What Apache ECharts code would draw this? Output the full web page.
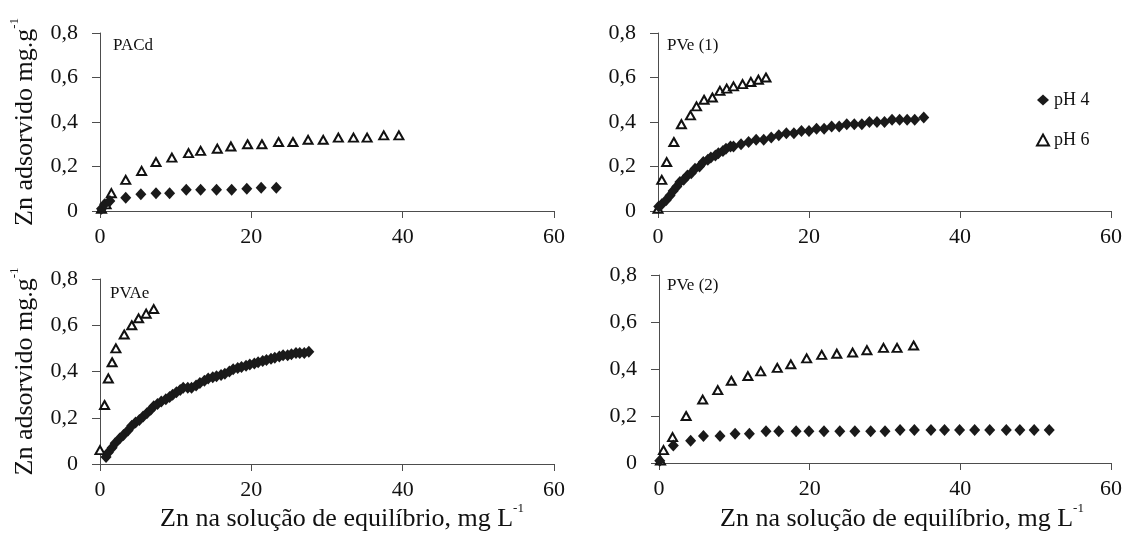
<!DOCTYPE html>
<html>
<head>
<meta charset="utf-8">
<script src="https://cdn.jsdelivr.net/npm/echarts@6/dist/echarts.min.js"></script>
<style>
  html, body { margin: 0; padding: 0; background: #fff; }
  #chart { width: 1125px; height: 540px; }
</style>
</head>
<body>
<div id="chart"></div>
<script>
  // x tick labels / y tick labels
  const xTicks = [0, 20, 40, 60]
  const yTicks = [0, 0.2, 0.4, 0.6, 0.8]
  const panelNames = ['PACd', 'PVe (1)', 'PVAe', 'PVe (2)']
  const seriesNames = ['pH 4', 'pH 6']

  // [Zn in solution, Zn adsorbed]
  const pacdPh4 = [[0.2, 0.01], [0.6, 0.03], [1.3, 0.045], [3.4, 0.06], [5.4, 0.075], [7.4, 0.08], [9.2, 0.08],
    [11.4, 0.095], [13.3, 0.095], [15.4, 0.095], [17.4, 0.095], [19.4, 0.1], [21.3, 0.105], [23.3, 0.105]]
  const pacdPh6 = [[0.2, 0.01], [0.8, 0.03], [1.5, 0.08], [3.4, 0.14], [5.5, 0.18], [7.4, 0.22], [9.5, 0.24],
    [11.7, 0.26], [13.3, 0.27], [15.5, 0.28], [17.3, 0.29], [19.5, 0.3], [21.4, 0.3], [23.6, 0.31], [25.5, 0.31],
    [27.5, 0.32], [29.5, 0.32], [31.5, 0.33], [33.5, 0.33], [35.3, 0.33], [37.5, 0.34], [39.5, 0.34]]

  const pve1Ph4 = [[0.1, 0.02], [0.5, 0.03], [1.1, 0.05], [1.6, 0.07], [2.0, 0.09], [2.5, 0.11], [2.9, 0.13],
    [3.4, 0.14], [3.9, 0.16], [4.4, 0.17], [4.9, 0.19], [5.5, 0.2], [6.0, 0.22], [6.6, 0.23], [7.0, 0.24],
    [7.6, 0.25], [8.0, 0.26], [8.6, 0.27], [9.0, 0.28], [9.6, 0.29], [10.0, 0.29], [11.0, 0.3], [12.0, 0.31],
    [13.0, 0.32], [14.0, 0.32], [15.0, 0.33], [16.0, 0.34], [17.0, 0.35], [18.0, 0.35], [19.0, 0.36],
    [20.0, 0.36], [21.0, 0.37], [22.0, 0.37], [23.0, 0.38], [24.0, 0.38], [25.0, 0.39], [26.0, 0.39],
    [27.0, 0.39], [28.0, 0.4], [29.0, 0.4], [30.0, 0.4], [31.0, 0.41], [32.0, 0.41], [33.0, 0.41],
    [34.0, 0.41], [35.2, 0.42]]
  const pve1Ph6 = [[0, 0.01], [0.5, 0.14], [1.15, 0.22], [2.1, 0.31], [3.1, 0.39], [4.3, 0.43], [5.1, 0.47],
    [6.1, 0.5], [7.2, 0.51], [8.2, 0.54], [9.1, 0.55], [10.0, 0.56], [11.2, 0.57], [12.3, 0.58], [13.3, 0.59],
    [14.3, 0.6]]

  const pvaePh4 = [[0.8, 0.03], [1.1, 0.05], [1.6, 0.07], [2.0, 0.09], [2.6, 0.11], [3.1, 0.125], [3.7, 0.145],
    [4.2, 0.165], [4.7, 0.18], [5.2, 0.19], [5.7, 0.205], [6.2, 0.22], [6.7, 0.235], [7.1, 0.25], [7.6, 0.26],
    [8.1, 0.27], [8.7, 0.28], [9.2, 0.29], [9.6, 0.3], [10.1, 0.31], [10.6, 0.32], [11.0, 0.33], [11.6, 0.33],
    [12.1, 0.33], [12.7, 0.34], [13.2, 0.35], [13.8, 0.36], [14.3, 0.37], [14.9, 0.375], [15.4, 0.38],
    [16.0, 0.385], [16.5, 0.39], [17.1, 0.4], [17.6, 0.41], [18.2, 0.415], [18.7, 0.42], [19.3, 0.425],
    [19.8, 0.43], [20.4, 0.435], [20.9, 0.44], [21.5, 0.445], [22.0, 0.45], [22.6, 0.455], [23.1, 0.46],
    [23.7, 0.465], [24.2, 0.47], [24.8, 0.47], [25.3, 0.475], [25.9, 0.48], [26.4, 0.48], [27.0, 0.48],
    [27.6, 0.485]]
  const pvaePh6 = [[0, 0.06], [0.6, 0.255], [1.1, 0.37], [1.6, 0.44], [2.1, 0.5], [3.2, 0.56], [4.2, 0.6],
    [5.1, 0.63], [6.1, 0.65], [7.1, 0.67]]

  const pve2Ph4 = [[0.1, 0.01], [1.9, 0.075], [4.2, 0.095], [5.9, 0.115], [8.1, 0.115], [10.1, 0.125],
    [12.0, 0.125], [14.2, 0.135], [15.9, 0.135], [18.2, 0.135], [19.9, 0.135], [21.9, 0.135], [24.0, 0.135],
    [26.0, 0.135], [28.1, 0.135], [30.0, 0.135], [32.0, 0.14], [33.9, 0.14], [36.1, 0.14], [37.9, 0.14],
    [39.9, 0.14], [41.9, 0.14], [43.9, 0.14], [46.1, 0.14], [47.9, 0.14], [49.8, 0.14], [51.8, 0.14]]
  const pve2Ph6 = [[0.2, 0.01], [0.6, 0.055], [1.8, 0.11], [3.6, 0.2], [5.8, 0.27], [7.8, 0.31], [9.6, 0.35],
    [11.8, 0.37], [13.5, 0.39], [15.7, 0.405], [17.5, 0.42], [19.6, 0.445], [21.6, 0.46], [23.6, 0.465],
    [25.7, 0.47], [27.6, 0.48], [29.8, 0.49], [31.6, 0.49], [33.8, 0.5]]

  const ph4Data = [pacdPh4, pve1Ph4, pvaePh4, pve2Ph4]
  const ph6Data = [pacdPh6, pve1Ph6, pvaePh6, pve2Ph6]

  const FONT = "'Liberation Serif', 'Times New Roman', serif"
  const AXIS_COLOR = '#4d4d4d'

  // grids: PACd, PVe (1), PVAe, PVe (2)
  const grids = [
    { left: 100, top: 33, width: 454, height: 178 },
    { left: 658, top: 33, width: 454, height: 178 },
    { left: 100, top: 279, width: 454, height: 185 },
    { left: 659, top: 275, width: 455, height: 188 }
  ]

  const fmtY = v => (v === 0 ? '0' : v.toFixed(1).replace('.', ','))

  const xAxes = grids.map((g, i) => ({
    gridIndex: i,
    type: 'value',
    min: xTicks[0],
    max: xTicks[xTicks.length - 1],
    interval: xTicks[1] - xTicks[0],
    splitLine: { show: false },
    axisLine: { lineStyle: { color: AXIS_COLOR, width: 1 } },
    axisTick: { length: 7, lineStyle: { color: AXIS_COLOR } },
    axisLabel: { color: '#111', fontFamily: FONT, fontSize: 22, margin: 15 }
  }))

  const yAxes = grids.map((g, i) => ({
    gridIndex: i,
    type: 'value',
    min: yTicks[0],
    max: yTicks[yTicks.length - 1],
    interval: yTicks[1] - yTicks[0],
    splitLine: { show: false },
    axisLine: { show: true, lineStyle: { color: AXIS_COLOR, width: 1 } },
    axisTick: { show: true, length: 8, lineStyle: { color: AXIS_COLOR } },
    axisLabel: { color: '#111', fontFamily: FONT, fontSize: 22, margin: 22, formatter: fmtY },
    name: i % 2 === 0 ? '{t|Zn adsorvido mg.g}{s|-1}' : '',
    nameLocation: 'middle',
    nameRotate: 90,
    nameGap: 62,
    nameTextStyle: {
      rich: {
        t: { fontFamily: FONT, fontSize: 26, color: '#111', lineHeight: 30, verticalAlign: 'bottom' },
        s: { fontFamily: FONT, fontSize: 13, color: '#111', lineHeight: 30, verticalAlign: 'top' }
      }
    }
  }))

  const series = []
  grids.forEach((g, i) => {
    series.push({
      name: seriesNames[1],
      type: 'scatter',
      xAxisIndex: i,
      yAxisIndex: i,
      symbol: 'triangle',
      symbolSize: [9, 8],
      itemStyle: { color: '#fff', borderColor: '#111', borderWidth: 2, opacity: 1 },
      data: ph6Data[i]
    })
    series.push({
      name: seriesNames[0],
      type: 'scatter',
      xAxisIndex: i,
      yAxisIndex: i,
      symbol: 'diamond',
      symbolSize: [11, 12],
      itemStyle: { color: '#1a1a1a', opacity: 1 },
      data: ph4Data[i]
    })
  })

  const labelPos = [[113, 37], [667, 37], [110, 285], [667, 277]]
  const graphics = panelNames.map((n, i) => ({
    type: 'text',
    left: labelPos[i][0],
    top: labelPos[i][1],
    style: { text: n, fontFamily: FONT, fontSize: 17, fill: '#111' }
  }))

  // x axis titles under bottom panels
  const xTitle = '{t|Zn na solução de equilíbrio, mg L}{s|-1}'
  const xTitleRich = {
    t: { fontFamily: FONT, fontSize: 26, fill: '#111', lineHeight: 30, verticalAlign: 'bottom' },
    s: { fontFamily: FONT, fontSize: 13, fill: '#111', lineHeight: 30, verticalAlign: 'top' }
  }
  ;[160, 720].forEach(x => {
    graphics.push({
      type: 'text',
      left: x,
      top: 502,
      style: { text: xTitle, rich: xTitleRich }
    })
  })

  const chart = echarts.init(document.getElementById('chart'), null, { renderer: 'canvas' })
  chart.setOption({
    animation: false,
    backgroundColor: '#fff',
    grid: grids,
    xAxis: xAxes,
    yAxis: yAxes,
    legend: {
      data: seriesNames,
      orient: 'vertical',
      left: 1031,
      top: 86,
      itemGap: 22,
      itemWidth: 12,
      itemHeight: 11,
      textStyle: { fontFamily: FONT, fontSize: 18, color: '#111' }
    },
    graphic: graphics,
    series: series
  })
</script>
</body>
</html>
